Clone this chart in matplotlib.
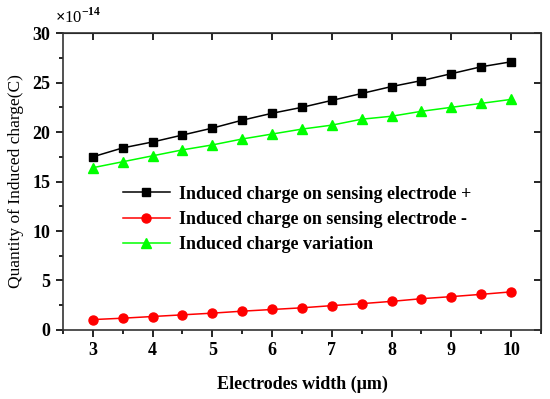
import numpy as np
import matplotlib
matplotlib.use("Agg")
import matplotlib.pyplot as plt
from matplotlib.ticker import MultipleLocator

plt.rcParams["font.family"] = ["Liberation Serif", "DejaVu Serif"]
plt.rcParams["font.weight"] = "bold"
plt.rcParams["mathtext.fontset"] = "custom"
plt.rcParams["mathtext.rm"] = "Liberation Serif"

# Data (charge in units of 1e-14 C)
width = [3, 3.5, 4, 4.5, 5, 5.5, 6, 6.5, 7, 7.5, 8, 8.5, 9, 9.5, 10]
charge_plus = [17.5, 18.4, 19.0, 19.7, 20.4, 21.2, 21.9, 22.5, 23.2, 23.9,
               24.6, 25.2, 25.9, 26.6, 27.1]
charge_minus = [1.05, 1.19, 1.36, 1.53, 1.70, 1.90, 2.07, 2.24, 2.46, 2.66,
                2.89, 3.16, 3.37, 3.60, 3.85]
charge_var = [16.4, 17.0, 17.6, 18.2, 18.7, 19.3, 19.8, 20.3, 20.7, 21.3,
              21.6, 22.1, 22.5, 22.9, 23.3]

fig = plt.figure(figsize=(5.5, 3.99), dpi=100)
ax = fig.add_axes([0.1145, 0.173, 0.869, 0.744])

ax.plot(width, charge_plus, color="black", lw=1.1, marker="s", ms=5.5,
        label="Induced charge on sensing electrode +")
ax.plot(width, charge_minus, color="#ff0000", lw=1.1, marker="o", ms=6.5,
        label="Induced charge on sensing electrode -")
ax.plot(width, charge_var, color="#00ff00", lw=1.1, marker="^", ms=7,
        label="Induced charge variation")

ax.set_xlim(2.5, 10.5)
ax.set_ylim(0, 30)
ax.xaxis.set_major_locator(MultipleLocator(1))
ax.xaxis.set_minor_locator(MultipleLocator(0.5))
ax.yaxis.set_major_locator(MultipleLocator(5))
ax.yaxis.set_minor_locator(MultipleLocator(2.5))
ax.tick_params(which="both", direction="out", labelsize=13, width=1.2)
ax.tick_params(which="major", length=5, pad=4)
ax.tick_params(which="minor", length=3)
for lab in ax.get_xticklabels() + ax.get_yticklabels():
    lab.set_fontweight("bold")

top = ax.secondary_xaxis("top")
top.set_xticks(range(3, 11))
top.tick_params(direction="in", length=5, width=1.2, labeltop=False)
right = ax.secondary_yaxis("right")
right.set_yticks(range(0, 31, 5))
right.tick_params(direction="in", length=5, width=1.2, labelright=False)

for sp in ax.spines.values():
    sp.set_linewidth(1.2)
    sp.set_color("#333333")

ax.set_xlabel("Electrodes width (\u03bcm)", fontsize=13, fontweight="bold", labelpad=12)
ax.set_ylabel("Quantity of Induced charge(C)", fontsize=12.5, fontweight="normal",
              labelpad=6)
ax.text(-0.017, 1.02, r"$\times$10$^{-14}$", transform=ax.transAxes,
        fontsize=12, fontweight="normal", ha="left", va="bottom")

ax.legend(loc="upper left", bbox_to_anchor=(0.11, 0.51), frameon=False,
          handlelength=2.6, labelspacing=0.45, borderaxespad=0, handletextpad=0.5,
          prop={"weight": "bold", "size": 13})

fig.savefig("out.png", dpi=100)
